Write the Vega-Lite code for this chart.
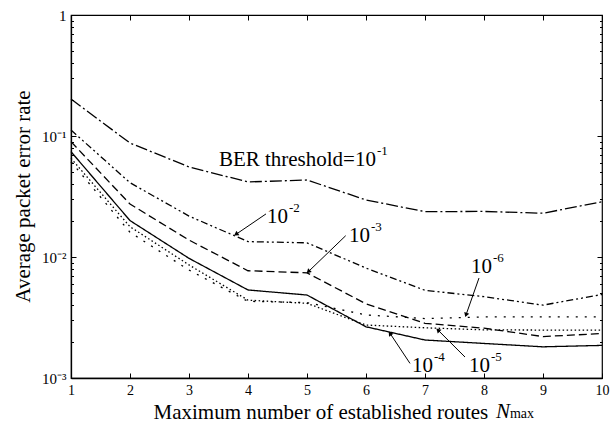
{
  "$schema": "https://vega.github.io/schema/vega-lite/v6.json",
  "width": 531,
  "height": 363,
  "autosize": {"type": "none"},
  "padding": {"left": 71, "top": 15, "right": 14, "bottom": 44},
  "background": "white",
  "config": {
    "view": {"stroke": "black", "strokeWidth": 1.2},
    "font": "Liberation Serif",
    "axis": {
      "grid": false,
      "domainColor": "black",
      "tickColor": "black",
      "labelColor": "black",
      "titleColor": "black",
      "labelFont": "Liberation Serif",
      "titleFont": "Liberation Serif",
      "titleFontWeight": "normal",
      "labelFlush": false,
      "labelOverlap": false
    }
  },
  "datasets": {
    "curves": [
      {"routes": 1, "ber": "1e-1", "per": 0.202},
      {"routes": 2, "ber": "1e-1", "per": 0.0875},
      {"routes": 3, "ber": "1e-1", "per": 0.0555},
      {"routes": 4, "ber": "1e-1", "per": 0.0417},
      {"routes": 5, "ber": "1e-1", "per": 0.0433},
      {"routes": 6, "ber": "1e-1", "per": 0.0296},
      {"routes": 7, "ber": "1e-1", "per": 0.0237},
      {"routes": 8, "ber": "1e-1", "per": 0.0238},
      {"routes": 9, "ber": "1e-1", "per": 0.0230},
      {"routes": 10, "ber": "1e-1", "per": 0.0286},
      {"routes": 1, "ber": "1e-2", "per": 0.112},
      {"routes": 2, "ber": "1e-2", "per": 0.0411},
      {"routes": 3, "ber": "1e-2", "per": 0.0218},
      {"routes": 4, "ber": "1e-2", "per": 0.0134},
      {"routes": 5, "ber": "1e-2", "per": 0.0131},
      {"routes": 6, "ber": "1e-2", "per": 0.0081},
      {"routes": 7, "ber": "1e-2", "per": 0.0053},
      {"routes": 8, "ber": "1e-2", "per": 0.0047},
      {"routes": 9, "ber": "1e-2", "per": 0.0040},
      {"routes": 10, "ber": "1e-2", "per": 0.0049},
      {"routes": 1, "ber": "1e-3", "per": 0.0898},
      {"routes": 2, "ber": "1e-3", "per": 0.0274},
      {"routes": 3, "ber": "1e-3", "per": 0.0138},
      {"routes": 4, "ber": "1e-3", "per": 0.0077},
      {"routes": 5, "ber": "1e-3", "per": 0.0074},
      {"routes": 6, "ber": "1e-3", "per": 0.0041},
      {"routes": 7, "ber": "1e-3", "per": 0.00283},
      {"routes": 8, "ber": "1e-3", "per": 0.00258},
      {"routes": 9, "ber": "1e-3", "per": 0.0022},
      {"routes": 10, "ber": "1e-3", "per": 0.00233},
      {"routes": 1, "ber": "1e-4", "per": 0.0742},
      {"routes": 2, "ber": "1e-4", "per": 0.0200},
      {"routes": 3, "ber": "1e-4", "per": 0.00975},
      {"routes": 4, "ber": "1e-4", "per": 0.00534},
      {"routes": 5, "ber": "1e-4", "per": 0.00485},
      {"routes": 6, "ber": "1e-4", "per": 0.00265},
      {"routes": 7, "ber": "1e-4", "per": 0.00206},
      {"routes": 8, "ber": "1e-4", "per": 0.00193},
      {"routes": 9, "ber": "1e-4", "per": 0.00181},
      {"routes": 10, "ber": "1e-4", "per": 0.00186},
      {"routes": 1, "ber": "1e-5", "per": 0.0654},
      {"routes": 2, "ber": "1e-5", "per": 0.0178},
      {"routes": 3, "ber": "1e-5", "per": 0.0086},
      {"routes": 4, "ber": "1e-5", "per": 0.0044},
      {"routes": 5, "ber": "1e-5", "per": 0.00414},
      {"routes": 6, "ber": "1e-5", "per": 0.00274},
      {"routes": 7, "ber": "1e-5", "per": 0.0026},
      {"routes": 8, "ber": "1e-5", "per": 0.0025},
      {"routes": 9, "ber": "1e-5", "per": 0.00249},
      {"routes": 10, "ber": "1e-5", "per": 0.00249},
      {"routes": 1, "ber": "1e-6", "per": 0.0613},
      {"routes": 2, "ber": "1e-6", "per": 0.0160},
      {"routes": 3, "ber": "1e-6", "per": 0.0078},
      {"routes": 4, "ber": "1e-6", "per": 0.0043},
      {"routes": 5, "ber": "1e-6", "per": 0.0042},
      {"routes": 6, "ber": "1e-6", "per": 0.00332},
      {"routes": 7, "ber": "1e-6", "per": 0.0031},
      {"routes": 8, "ber": "1e-6", "per": 0.0032},
      {"routes": 9, "ber": "1e-6", "per": 0.0032},
      {"routes": 10, "ber": "1e-6", "per": 0.0032}
    ],
    "arrows": [
      {"ber": "1e-2", "tx": 4.305, "ty": 0.0227, "hx": 3.797, "hy": 0.0154},
      {"ber": "1e-3", "tx": 5.656, "ty": 0.0150, "hx": 5.022, "hy": 0.00756},
      {"ber": "1e-6", "tx": 7.915, "ty": 0.0067, "hx": 7.695, "hy": 0.00332},
      {"ber": "1e-5", "tx": 7.678, "ty": 0.00149, "hx": 7.220, "hy": 0.00249},
      {"ber": "1e-4", "tx": 6.746, "ty": 0.00132, "hx": 6.407, "hy": 0.00234}
    ],
    "labels": [
      {"ber": "1e-1", "base": "BER threshold=10", "exp": "-1", "x": 6.169, "y": 0.0565},
      {"ber": "1e-2", "base": "10", "exp": "-2", "x": 4.678, "y": 0.0191},
      {"ber": "1e-3", "base": "10", "exp": "-3", "x": 6.068, "y": 0.0133},
      {"ber": "1e-6", "base": "10", "exp": "-6", "x": 8.136, "y": 0.00738},
      {"ber": "1e-4", "base": "10", "exp": "-4", "x": 7.136, "y": 0.00112},
      {"ber": "1e-5", "base": "10", "exp": "-5", "x": 8.102, "y": 0.00112}
    ]
  },
  "layer": [
    {
      "data": {"name": "curves"},
      "mark": {"type": "line", "color": "black", "strokeWidth": 1.3},
      "encoding": {
        "x": {
          "field": "routes",
          "type": "quantitative",
          "scale": {"domain": [1, 10], "nice": false, "zero": false},
          "axis": {
            "orient": "bottom",
            "values": [1, 2, 3, 4, 5, 6, 7, 8, 9, 10],
            "format": "d",
            "tickSize": -5,
            "tickWidth": 1,
            "domainWidth": 1.3,
            "labelFontSize": 14,
            "labelPadding": 10,
            "title": "Maximum number of established routes",
            "titleFontSize": 21,
            "titleAlign": "left",
            "titleAnchor": "start",
            "titleBaseline": "alphabetic",
            "titleX": 82,
            "titleY": 40
          }
        },
        "y": {
          "field": "per",
          "type": "quantitative",
          "scale": {"type": "log", "domain": [0.001, 1], "nice": false},
          "axis": {
            "orient": "left",
            "values": [0.001, 0.002, 0.003, 0.004, 0.005, 0.006, 0.007, 0.008, 0.009, 0.01, 0.02, 0.03, 0.04, 0.05, 0.06, 0.07, 0.08, 0.09, 0.1, 0.2, 0.3, 0.4, 0.5, 0.6, 0.7, 0.8, 0.9, 1],
            "labelExpr": "datum.value == 1 ? '1' : datum.value == 0.1 ? '10\u207b\u00b9' : datum.value == 0.01 ? '10\u207b\u00b2' : datum.value == 0.001 ? '10\u207b\u00b3' : ''",
            "tickSize": {"condition": {"test": "datum.value == 1 || datum.value == 0.1 || datum.value == 0.01 || datum.value == 0.001", "value": -5}, "value": -2.5},
            "tickWidth": 1,
            "domainWidth": 1.3,
            "labelFontSize": 15,
            "labelPadding": 10,
            "title": "Average packet error rate",
            "titleFontSize": 21,
            "titleAngle": -90,
            "titleAlign": "center",
            "titleBaseline": "alphabetic",
            "titleX": -42,
            "titleY": 181
          }
        },
        "strokeDash": {
          "field": "ber",
          "type": "nominal",
          "scale": {
            "domain": ["1e-1", "1e-2", "1e-3", "1e-4", "1e-5", "1e-6"],
            "range": [[12, 3, 2, 3], [7, 3, 2, 3, 2, 3], [8, 4], [1, 0], [1.5, 2.5], [2, 7]]
          },
          "legend": null
        }
      }
    },
    {
      "data": {"name": "arrows"},
      "mark": {"type": "rule", "color": "black", "strokeWidth": 1},
      "encoding": {
        "x": {"field": "tx", "type": "quantitative", "axis": null},
        "y": {"field": "ty", "type": "quantitative", "axis": null},
        "x2": {"field": "hx"},
        "y2": {"field": "hy"}
      }
    },
    {
      "data": {"name": "arrows"},
      "transform": [
        {"calculate": "(atan2(59 * (datum.hx - datum.tx), 121 * (log(datum.hy) - log(datum.ty)) / LN10) * 180 / PI + 360) % 360", "as": "angle"}
      ],
      "mark": {"type": "point", "shape": "triangle-up", "filled": true, "color": "black", "size": 28, "opacity": 1},
      "encoding": {
        "x": {"field": "hx", "type": "quantitative", "axis": null},
        "y": {"field": "hy", "type": "quantitative", "axis": null},
        "angle": {"field": "angle", "type": "quantitative", "scale": null}
      }
    },
    {
      "data": {"name": "labels"},
      "mark": {"type": "text", "align": "right", "baseline": "alphabetic", "fontSize": 21, "color": "black"},
      "encoding": {
        "x": {
          "field": "x",
          "type": "quantitative",
          "axis": {"orient": "top", "values": [1, 2, 3, 4, 5, 6, 7, 8, 9, 10], "labels": false, "domain": false, "title": null, "tickSize": -5, "tickWidth": 1}
        },
        "y": {
          "field": "y",
          "type": "quantitative",
          "axis": {
            "orient": "right",
            "values": [0.001, 0.002, 0.003, 0.004, 0.005, 0.006, 0.007, 0.008, 0.009, 0.01, 0.02, 0.03, 0.04, 0.05, 0.06, 0.07, 0.08, 0.09, 0.1, 0.2, 0.3, 0.4, 0.5, 0.6, 0.7, 0.8, 0.9, 1],
            "labels": false,
            "domain": false,
            "title": null,
            "tickSize": {"condition": {"test": "datum.value == 1 || datum.value == 0.1 || datum.value == 0.01 || datum.value == 0.001", "value": -5}, "value": -2.5},
            "tickWidth": 1
          }
        },
        "text": {"field": "base"}
      }
    },
    {
      "data": {"name": "labels"},
      "mark": {"type": "text", "align": "left", "baseline": "alphabetic", "fontSize": 13, "dx": 1, "dy": -11, "color": "black"},
      "encoding": {
        "x": {"field": "x", "type": "quantitative", "axis": null},
        "y": {"field": "y", "type": "quantitative", "axis": null},
        "text": {"field": "exp"}
      }
    },
    {
      "data": {"values": [{"t": "N"}]},
      "mark": {"type": "text", "align": "left", "baseline": "alphabetic", "fontSize": 21, "fontStyle": "italic", "dy": 40, "color": "black"},
      "encoding": {
        "x": {"datum": 8.203, "type": "quantitative", "axis": null},
        "y": {"datum": 0.001, "type": "quantitative", "axis": null},
        "text": {"field": "t"}
      }
    },
    {
      "data": {"values": [{"t": "max"}]},
      "mark": {"type": "text", "align": "left", "baseline": "alphabetic", "fontSize": 14, "dy": 40, "color": "black"},
      "encoding": {
        "x": {"datum": 8.44, "type": "quantitative", "axis": null},
        "y": {"datum": 0.001, "type": "quantitative", "axis": null},
        "text": {"field": "t"}
      }
    }
  ]
}
